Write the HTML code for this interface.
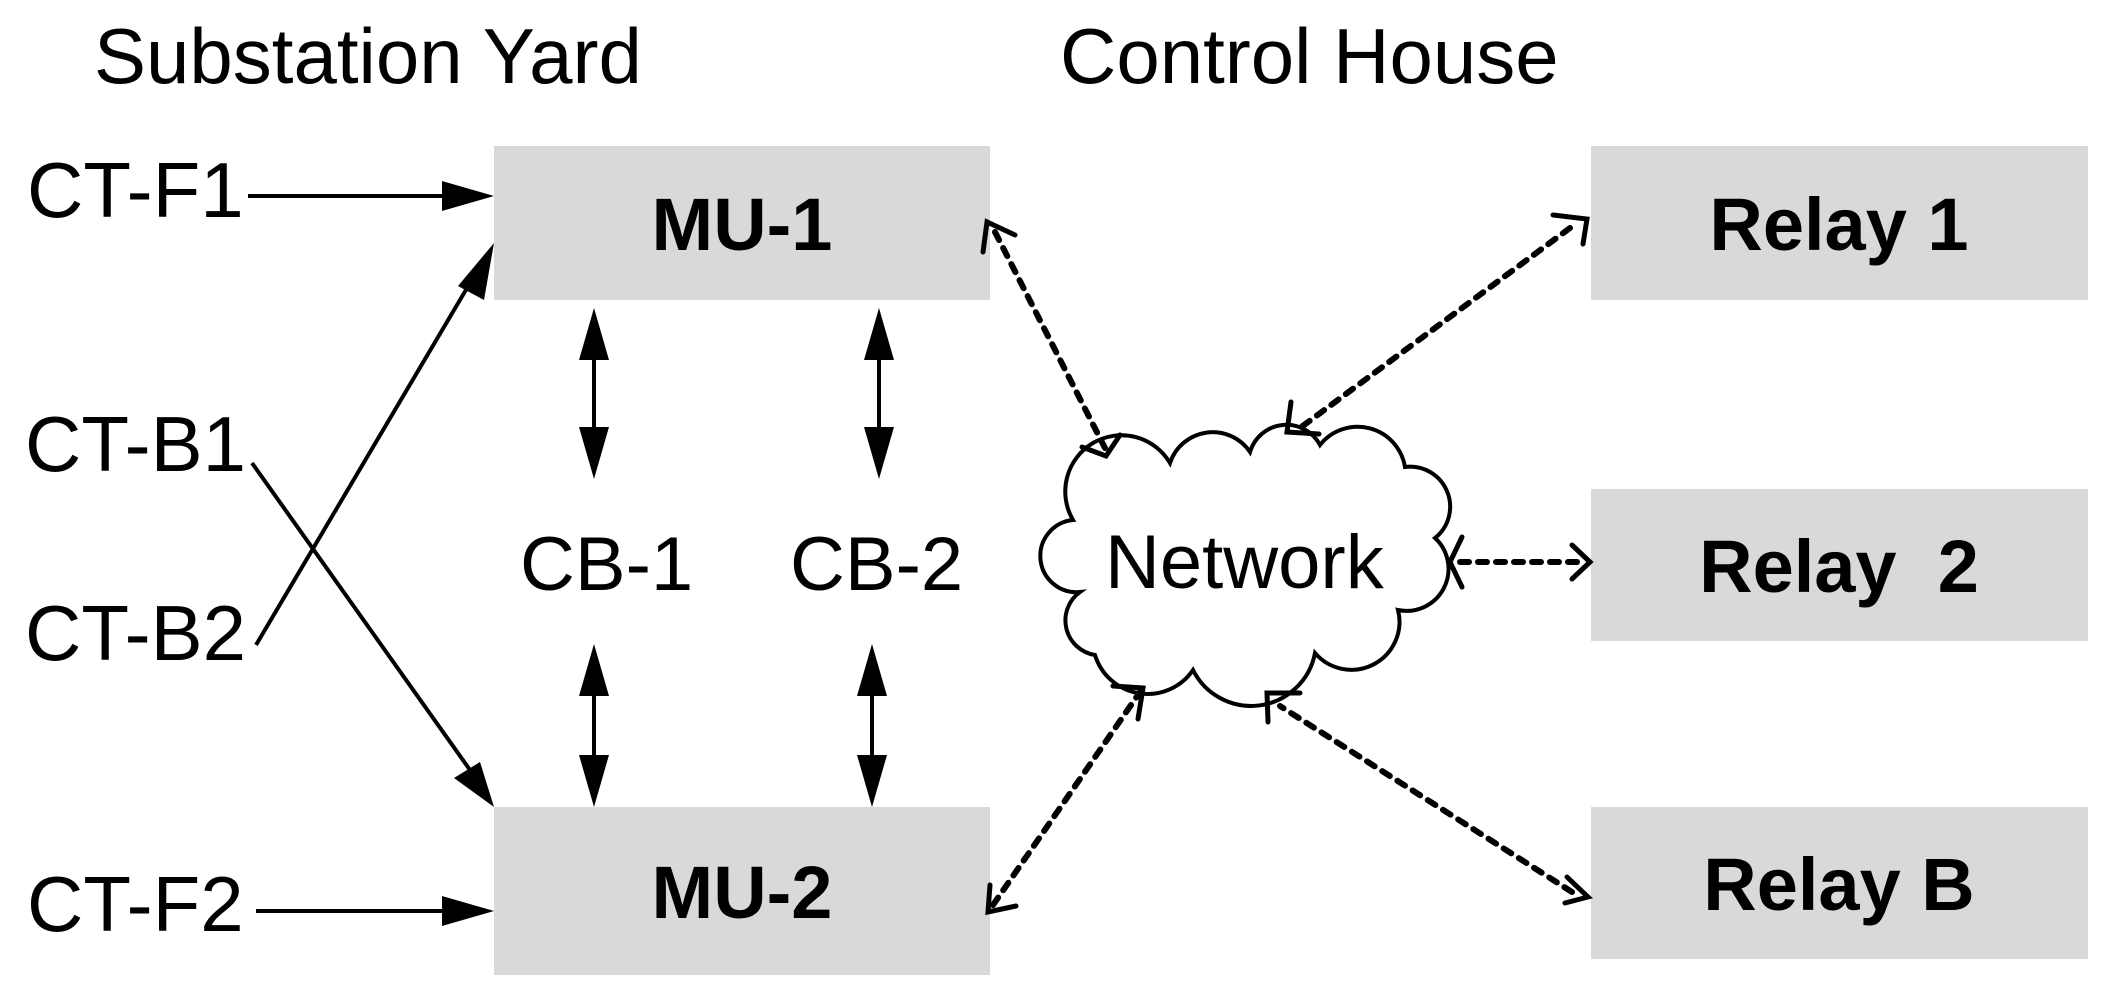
<!DOCTYPE html>
<html><head><meta charset="utf-8"><style>
html,body{margin:0;padding:0;background:#fff;}
svg{display:block;}
text{font-family:"Liberation Sans",Arial,sans-serif;fill:#000;}
</style></head><body>
<svg width="2117" height="1008" viewBox="0 0 2117 1008" xmlns="http://www.w3.org/2000/svg">
<g font-size="78">
<text x="94" y="83">Substation Yard</text>
<text x="1060" y="83">Control House</text>
<text x="27" y="217">CT-F1</text>
<text x="25" y="471">CT-B1</text>
<text x="25" y="660">CT-B2</text>
<text x="27" y="931">CT-F2</text>
<text x="520" y="590" font-size="76">CB-1</text>
<text x="790" y="590" font-size="76">CB-2</text>
</g>
<rect x="494" y="146" width="496" height="154" fill="#d9d9d9"/>
<rect x="494" y="807" width="496" height="168" fill="#d9d9d9"/>
<rect x="1591" y="146" width="497" height="154" fill="#d9d9d9"/>
<rect x="1591" y="489" width="497" height="152" fill="#d9d9d9"/>
<rect x="1591" y="807" width="497" height="152" fill="#d9d9d9"/>
<g font-size="74" font-weight="bold" text-anchor="middle">
<text x="742" y="250">MU-1</text>
<text x="742" y="918">MU-2</text>
<text x="1839" y="250">Relay 1</text>
<text x="1839" y="592" xml:space="preserve">Relay&#160; 2</text>
<text x="1839" y="910">Relay B</text>
</g>
<g stroke="#000" stroke-width="4" fill="none">
<line x1="248" y1="196" x2="450" y2="196"/>
<line x1="256" y1="645" x2="470" y2="283"/>
<line x1="252" y1="463" x2="470" y2="770"/>
<line x1="256" y1="911" x2="450" y2="911"/>
<line x1="594" y1="340" x2="594" y2="450"/>
<line x1="879" y1="340" x2="879" y2="450"/>
<line x1="594" y1="680" x2="594" y2="770"/>
<line x1="872" y1="680" x2="872" y2="770"/>
</g>
<g fill="#000">
<polygon points="494,196 442,181 442,211"/>
<polygon points="494,243 484,300 458,286"/>
<polygon points="494,807 454,778 480,762"/>
<polygon points="494,911 442,896 442,926"/>
<polygon points="594,308 579,360 609,360"/>
<polygon points="594,479 579,427 609,427"/>
<polygon points="879,308 864,360 894,360"/>
<polygon points="879,479 864,427 894,427"/>
<polygon points="594,644 579,696 609,696"/>
<polygon points="594,807 579,755 609,755"/>
<polygon points="872,644 857,696 887,696"/>
<polygon points="872,807 857,755 887,755"/>
</g>
<path d="M1073,520 A55,55 0 0 1 1170,463 A45,45 0 0 1 1250,452 A38,38 0 0 1 1320,445 A48,48 0 0 1 1405,467 A40,40 0 0 1 1435,538 A42,42 0 0 1 1398,610 A48,48 0 0 1 1315,653 A65,65 0 0 1 1193,670 A55,55 0 0 1 1095,655 A35,35 0 0 1 1080,592 A36,36 0 0 1 1073,520 Z" fill="#fff" stroke="#000" stroke-width="4"/>
<text x="1105" y="588" font-size="76">Network</text>
<g stroke="#000" stroke-width="6" fill="none" stroke-dasharray="9,9" stroke-linecap="round">
<line x1="995" y1="232" x2="1105" y2="448"/>
<line x1="1570" y1="228" x2="1300" y2="428"/>
<line x1="1460" y1="562" x2="1583" y2="562"/>
<line x1="1572" y1="892" x2="1280" y2="706"/>
<line x1="993" y1="905" x2="1140" y2="692"/>
</g>
<g stroke="#000" stroke-width="5" fill="none" stroke-linecap="round">
<polyline points="1015,235 987,222 983,252"/>
<polyline points="1082,447 1106,456 1120,435"/>
<polyline points="1553,215 1587,219 1583,244"/>
<polyline points="1291,402 1287,432 1319,434"/>
<polyline points="1462,537 1450,562 1462,587"/>
<polyline points="1572,545 1590,562 1572,579"/>
<polyline points="1268,722 1267,693 1300,693"/>
<polyline points="1567,877 1588,897 1565,903"/>
<polyline points="1138,719 1143,688 1113,686"/>
<polyline points="990,885 988,912 1016,906"/>
</g>
</svg>
</body></html>
